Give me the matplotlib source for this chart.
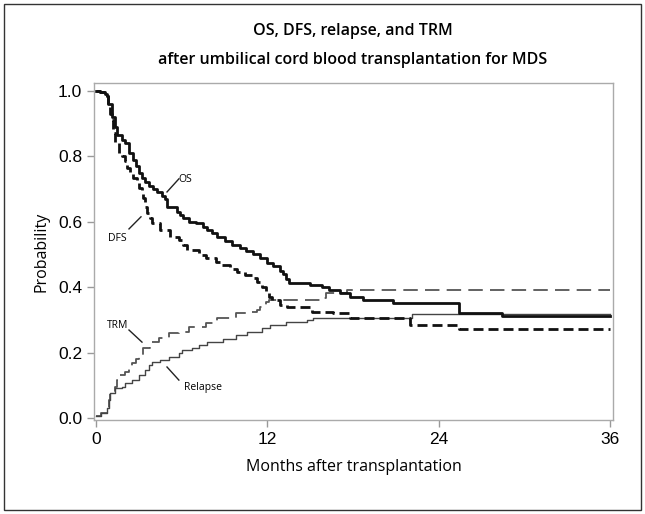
import matplotlib.pyplot as plt
from matplotlib.patches import Rectangle

# step data (months, probability after the step)
os_t = [0, 0.3, 0.6, 0.8, 0.85, 1.1, 1.3, 1.5, 1.8, 2.0, 2.3, 2.6, 2.8, 3.0, 3.2, 3.4, 3.7, 4.0, 4.3,
        4.6, 4.8, 5.0, 5.7, 5.9, 6.1, 6.5, 7.0, 7.5, 7.8, 8.1, 8.5, 9.0, 9.5, 10.1, 10.5, 11.0,
        11.5, 12.0, 12.4, 12.9, 13.1, 13.3, 13.5, 15.0, 15.8, 16.3, 17.1, 17.8, 18.7, 20.8, 25.4,
        28.4, 36]
os_p = [1.0, 0.995, 0.99, 0.985, 0.96, 0.92, 0.89, 0.865, 0.85, 0.84, 0.81, 0.79, 0.77, 0.75,
        0.735, 0.72, 0.71, 0.70, 0.69, 0.68, 0.67, 0.645, 0.63, 0.62, 0.61, 0.60, 0.595, 0.585,
        0.575, 0.565, 0.553, 0.54, 0.53, 0.52, 0.51, 0.50, 0.49, 0.475, 0.465, 0.45, 0.44, 0.425,
        0.413, 0.407, 0.40, 0.39, 0.382, 0.37, 0.361, 0.352, 0.321, 0.313, 0.313]

dfs_t = [0, 0.3, 0.6, 0.8, 0.85, 1.0, 1.1, 1.2, 1.3, 1.6, 1.8, 2.0, 2.2, 2.4, 2.6, 2.9, 3.0, 3.2,
         3.3, 3.4, 3.6, 3.8, 3.9, 4.5, 5.2, 5.8, 6.1, 6.4, 7.2, 7.7, 8.4, 8.8, 9.4, 9.9, 10.4,
         10.9, 11.3, 11.6, 11.9, 12.1, 12.3, 12.9, 13.4, 15.1, 16.6, 17.8, 22.0, 25.4, 36]
dfs_p = [1.0, 0.995, 0.99, 0.985, 0.96, 0.93, 0.91, 0.87, 0.845, 0.81, 0.80, 0.785, 0.765, 0.75,
         0.735, 0.72, 0.703, 0.69, 0.673, 0.645, 0.627, 0.61, 0.596, 0.575, 0.553, 0.544, 0.53,
         0.514, 0.498, 0.489, 0.478, 0.468, 0.457, 0.446, 0.437, 0.428, 0.416, 0.40, 0.382, 0.37,
         0.361, 0.346, 0.34, 0.324, 0.321, 0.307, 0.284, 0.272, 0.272]

trm_t = [0, 0.35, 0.8, 0.9, 1.0, 1.3, 1.5, 1.7, 2.0, 2.3, 2.5, 2.8, 3.0, 3.3, 3.8, 4.4, 5.1, 5.8,
         6.5, 7.7, 8.5, 9.8, 10.8, 11.3, 11.5, 11.9, 12.1, 15.8, 16.1, 17.6, 36]
trm_p = [0.005, 0.015, 0.03, 0.055, 0.076, 0.095, 0.116, 0.13, 0.14, 0.155, 0.168, 0.18, 0.193,
         0.214, 0.232, 0.245, 0.26, 0.263, 0.278, 0.29, 0.306, 0.321, 0.324, 0.33, 0.34, 0.355,
         0.361, 0.367, 0.382, 0.391, 0.391]

rel_t = [0, 0.35, 0.8, 0.9, 1.0, 1.3, 1.8, 2.0, 2.5, 3.0, 3.4, 3.7, 3.9, 4.5, 5.1, 5.8, 6.0, 6.7,
         7.2, 7.8, 8.9, 9.8, 10.6, 11.6, 12.2, 13.3, 14.8, 15.2, 22.1, 36]
rel_p = [0.005, 0.015, 0.03, 0.055, 0.076, 0.092, 0.095, 0.107, 0.116, 0.13, 0.147, 0.162, 0.171,
         0.177, 0.187, 0.199, 0.208, 0.214, 0.223, 0.232, 0.242, 0.254, 0.263, 0.275, 0.284,
         0.294, 0.30, 0.306, 0.318, 0.318]

x_ticks = [0, 12, 24, 36]
y_ticks = [0.0, 0.2, 0.4, 0.6, 0.8, 1.0]

plt.rcParams['font.family'] = ['Liberation Sans', 'DejaVu Sans']

fig = plt.figure(figsize=(6.45, 5.14), dpi=100)
ax = fig.add_axes([0.1457, 0.1829, 0.8047, 0.6556])

ax.step(trm_t, trm_p, where='post', color='#555555', lw=1.3, dashes=(8, 4))
ax.step(rel_t, rel_p, where='post', color='#444444', lw=1.0)
ax.step(dfs_t, dfs_p, where='post', color='#111111', lw=2.0, dashes=(3.6, 1.8))
ax.step(os_t, os_p, where='post', color='#111111', lw=2.0)

ax.set_xlim(-0.14, 36.18)
ax.set_ylim(-0.006, 1.024)
ax.set_xticks(x_ticks)
ax.set_yticks(y_ticks)
ax.set_yticklabels([f'{v:.1f}' for v in y_ticks])
ax.tick_params(colors='#999999', labelcolor='black', labelsize=12.5, length=5, width=1)
for s in ax.spines.values():
    s.set_color('#aaaaaa')
    s.set_linewidth(1)

lab = dict(fontsize=11.5, family=['Open Sans', 'DejaVu Sans'])
ax.set_xlabel('Months after transplantation', labelpad=9, **lab)
ax.set_ylabel('Probability', labelpad=6, **lab)

# curve labels with leader lines
small = dict(fontsize=7.5, family=['Open Sans', 'DejaVu Sans'], ha='center', va='center')
ax.text(6.25, 0.73, 'OS', **small)
ax.plot([4.97, 5.8], [0.691, 0.731], color='#222222', lw=1)
ax.text(1.5, 0.55, 'DFS', **small)
ax.plot([2.31, 3.15], [0.578, 0.615], color='#222222', lw=1)
ax.text(1.5, 0.284, 'TRM', **small)
ax.plot([2.31, 3.22], [0.269, 0.232], color='#222222', lw=1)
ax.text(7.5, 0.092, 'Relapse', **small)
ax.plot([4.97, 5.8], [0.156, 0.116], color='#222222', lw=1)

fig.text(0.547, 0.940, 'OS, DFS, relapse, and TRM', ha='center', va='center',
         fontsize=11.5, fontweight='semibold', family=['Open Sans', 'DejaVu Sans'])
fig.text(0.547, 0.883, 'after umbilical cord blood transplantation for MDS', ha='center',
         va='center', fontsize=11.5, fontweight='semibold', family=['Open Sans', 'DejaVu Sans'])

fig.patches.append(Rectangle((4 / 645, 4 / 514), 637 / 645, 506 / 514, transform=fig.transFigure,
                             fill=False, edgecolor='#333333', lw=1))

fig.savefig('out.png', dpi=100)
